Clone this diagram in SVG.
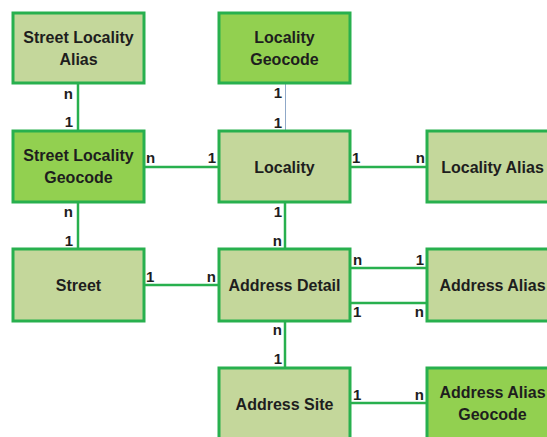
<svg xmlns="http://www.w3.org/2000/svg" width="547" height="437" viewBox="0 0 547 437">
<style>
.box{stroke:#28b04e;stroke-width:3}
.lt{fill:#c4d79b}
.dk{fill:#92d050}
.t{font-family:"Liberation Sans",Arial,sans-serif;font-weight:bold;font-size:16px;fill:#1e1e1e;text-anchor:middle}
.c{stroke:#28b04e;stroke-width:2.5;fill:none}
.cb{stroke:#8fa8c8;stroke-width:1;fill:none}
.l{font-family:"Liberation Sans",Arial,sans-serif;font-weight:bold;font-size:15px;fill:#1e1e1e}
.e{text-anchor:end}
</style>
<rect width="547" height="437" fill="#ffffff"/>
<g id="connectors">
<line class="c" x1="78" y1="83" x2="78" y2="131"/>
<line class="cb" x1="285.5" y1="83" x2="285.5" y2="131"/>
<line class="c" x1="144" y1="167" x2="219" y2="167"/>
<line class="c" x1="350" y1="167" x2="427" y2="167"/>
<line class="c" x1="78" y1="202" x2="78" y2="249"/>
<line class="c" x1="285" y1="202" x2="285" y2="249"/>
<line class="c" x1="144" y1="285" x2="219" y2="285"/>
<line class="c" x1="350" y1="268" x2="427" y2="268"/>
<line class="c" x1="350" y1="303" x2="427" y2="303"/>
<line class="c" x1="285" y1="321" x2="285" y2="368"/>
<line class="c" x1="350" y1="403" x2="427" y2="403"/>
<text class="l e" x="73" y="99">n</text>
<text class="l e" x="73" y="127">1</text>
<text class="l e" x="282" y="98">1</text>
<text class="l e" x="282" y="128">1</text>
<text class="l" x="146" y="163">n</text>
<text class="l e" x="216" y="163">1</text>
<text class="l" x="352" y="163">1</text>
<text class="l e" x="425" y="163">n</text>
<text class="l e" x="73" y="217">n</text>
<text class="l e" x="73" y="246">1</text>
<text class="l e" x="282" y="217">1</text>
<text class="l e" x="282" y="246">n</text>
<text class="l" x="146" y="282">1</text>
<text class="l e" x="216" y="282">n</text>
<text class="l" x="353" y="265">n</text>
<text class="l e" x="424" y="265">1</text>
<text class="l" x="353" y="317">1</text>
<text class="l e" x="424" y="317">n</text>
<text class="l e" x="282" y="335">n</text>
<text class="l e" x="282" y="364">1</text>
<text class="l" x="353" y="400">1</text>
<text class="l e" x="424" y="400">n</text>
</g>
<g id="street-locality-alias">
<rect class="box lt" x="13" y="13" width="131" height="70"/>
<text class="t" x="78.5" y="43">Street Locality</text>
<text class="t" x="78.5" y="65">Alias</text>
</g>
<g id="locality-geocode">
<rect class="box dk" x="219" y="13" width="131" height="70"/>
<text class="t" x="284.5" y="43">Locality</text>
<text class="t" x="284.5" y="65">Geocode</text>
</g>
<g id="street-locality-geocode">
<rect class="box dk" x="13" y="131" width="131" height="71"/>
<text class="t" x="78.5" y="161">Street Locality</text>
<text class="t" x="78.5" y="183">Geocode</text>
</g>
<g id="locality">
<rect class="box lt" x="219" y="131" width="131" height="71"/>
<text class="t" x="284.5" y="173">Locality</text>
</g>
<g id="locality-alias">
<rect class="box lt" x="427" y="131" width="131" height="71"/>
<text class="t" x="492.5" y="173">Locality Alias</text>
</g>
<g id="street">
<rect class="box lt" x="13" y="249" width="131" height="72"/>
<text class="t" x="78.5" y="291">Street</text>
</g>
<g id="address-detail">
<rect class="box lt" x="219" y="249" width="131" height="72"/>
<text class="t" x="284.5" y="291">Address Detail</text>
</g>
<g id="address-alias">
<rect class="box lt" x="427" y="249" width="131" height="72"/>
<text class="t" x="492.5" y="291">Address Alias</text>
</g>
<g id="address-site">
<rect class="box lt" x="219" y="368" width="131" height="72"/>
<text class="t" x="284.5" y="410">Address Site</text>
</g>
<g id="address-alias-geocode">
<rect class="box dk" x="427" y="368" width="131" height="72"/>
<text class="t" x="492.5" y="398">Address Alias</text>
<text class="t" x="492.5" y="420">Geocode</text>
</g>
</svg>
